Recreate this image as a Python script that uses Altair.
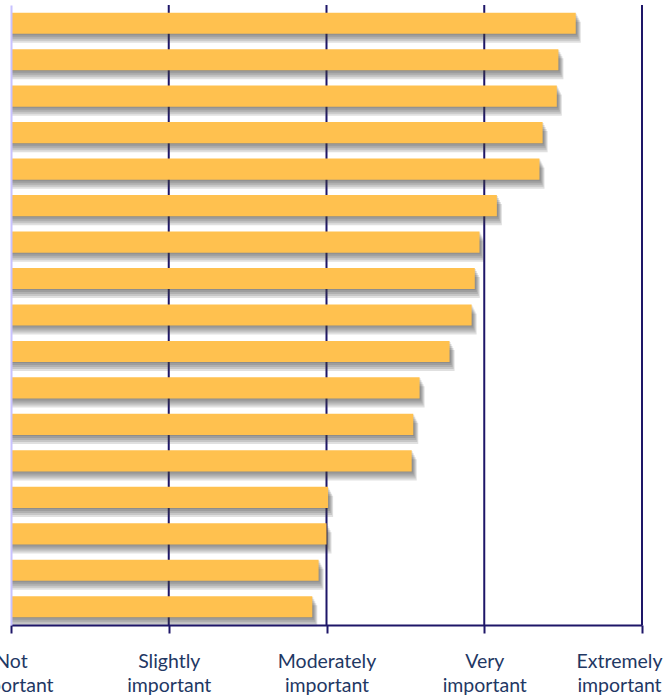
import json
import altair as alt
import pandas as pd

items = [
    "Item 1", "Item 2", "Item 3", "Item 4", "Item 5", "Item 6", "Item 7", "Item 8", "Item 9",
    "Item 10", "Item 11", "Item 12", "Item 13", "Item 14", "Item 15", "Item 16", "Item 17",
]
values = [4.58, 4.47, 4.46, 4.37, 4.35, 4.08, 3.97, 3.94, 3.92,
          3.78, 3.59, 3.55, 3.54, 3.01, 3.00, 2.95, 2.91]
tick_values = [1, 2, 3, 4, 5]
tick_labels = ["Not important", "Slightly important", "Moderately important",
               "Very important", "Extremely important"]

NAVY = "#1E1668"
TEXT = "#1F3864"
BAR = "#FFC14F"
LAV = "#C8C2FF"

df = pd.DataFrame({"item": items, "value": values, "start": [tick_values[0]] * len(items)})
grid_df = pd.DataFrame({"v": tick_values[1:]})

lines = [lbl.split(" ") for lbl in tick_labels]
label_expr = f"{json.dumps(lines)}[indexof({json.dumps(tick_values)}, datum.value)]"

xscale = alt.Scale(domain=[tick_values[0], tick_values[-1]], nice=False, zero=False)
yscale = alt.Scale(paddingInner=0.42, paddingOuter=0.21)

x_axis = alt.Axis(
    values=tick_values, labelExpr=label_expr, grid=False, title=None,
    domainColor=NAVY, domainWidth=2, tickColor=NAVY, tickWidth=2, tickSize=8,
    labelFont="Lato", labelFontSize=19.5, labelColor=TEXT, labelLineHeight=24,
    labelPadding=19, labelBound=False, labelOverlap=False, labelFlush=False,
    labelOffset=alt.expr(f"datum.value == {tick_values[-1]} ? -23 : 0"),
    zindex=1,
)
y_axis = alt.Axis(labels=False, ticks=False, title=None, grid=False,
                  domainColor=LAV, domainWidth=2, zindex=1)

grid = alt.Chart(grid_df).mark_rule(color=NAVY, strokeWidth=2).encode(
    x=alt.X("v:Q", scale=xscale, axis=x_axis),
    y=alt.value(0), y2=alt.value(620),
)

shadows = []
for dx, dy in [(1, 1), (2, 3), (3, 5), (4, 7), (5, 9)]:
    shadows.append(
        alt.Chart(df).mark_bar(color="#404040", opacity=0.16, xOffset=dx, yOffset=dy).encode(
            y=alt.Y("item:N", sort=items, scale=yscale, axis=y_axis),
            x=alt.X("value:Q", scale=xscale, axis=x_axis),
            x2="start:Q",
        )
    )

bars = alt.Chart(df).mark_bar(color=BAR).encode(
    y=alt.Y("item:N", sort=items, scale=yscale, axis=y_axis),
    x=alt.X("value:Q", scale=xscale, axis=x_axis),
    x2="start:Q",
)

chart = alt.layer(grid, *shadows, bars).properties(
    width=631, height=620,
    autosize=alt.AutoSizeParams(type="none"),
    padding={"left": 11, "top": 5, "right": 21, "bottom": 73},
    background="white",
).configure_view(stroke=None)

chart.save("out.html", embed_options={"renderer": "svg", "actions": False})
